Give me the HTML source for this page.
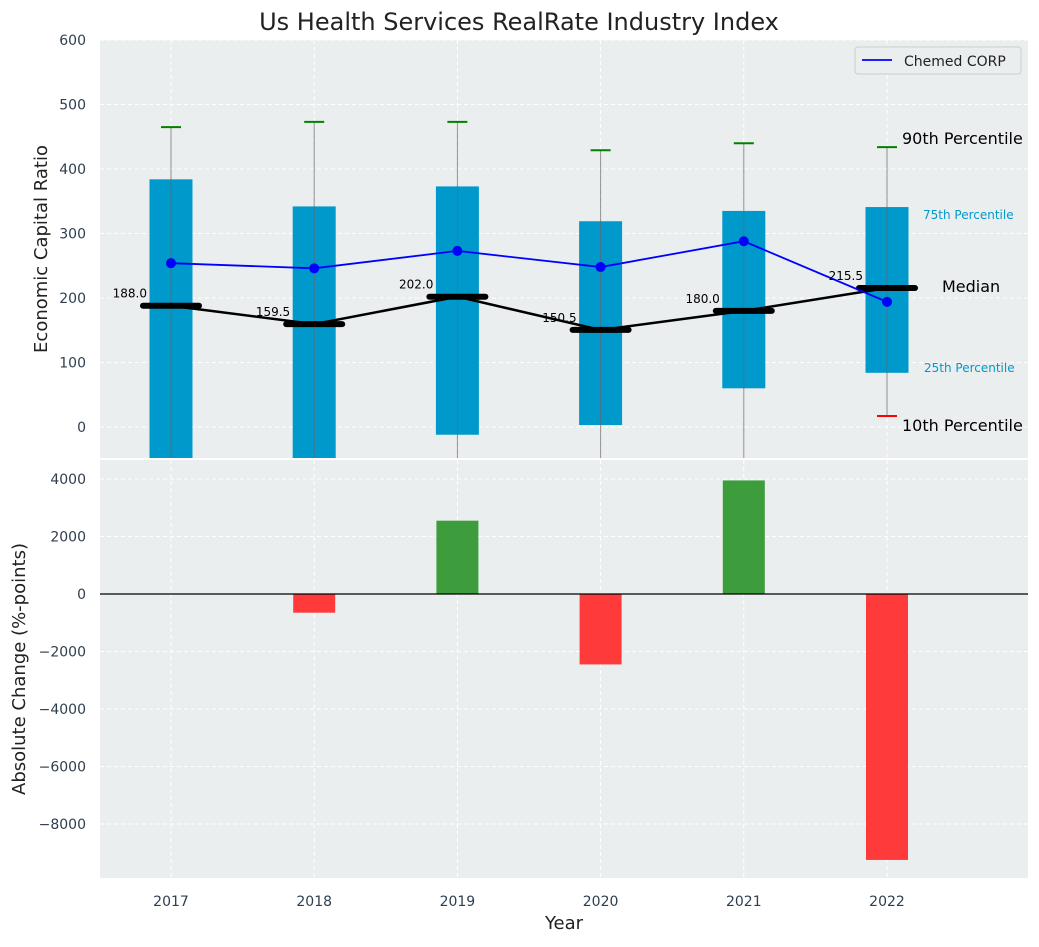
<!DOCTYPE html>
<html><head><meta charset="utf-8"><style>
body{margin:0;background:#fff;font-family:"Liberation Sans","DejaVu Sans",sans-serif}
svg text{font-family:"DejaVu Sans","Liberation Sans",sans-serif}
</style></head><body>
<svg id="c" width="1039" height="942" xmlns="http://www.w3.org/2000/svg"></svg>
<script>
const years=[2017,2018,2019,2020,2021,2022];
const p10=[-120,-110,-100,-90,-100,17];
const p25=[-100,-80,-12,3,60,84];
const p50=[188,159.5,202,150.5,180,215.5];
const p75=[384,342,373,319,335,341];
const p90=[465,473,473,429,440,434];
const chemed=[254,246,273,248,288,194];
const change=[0,-650,2550,-2450,3950,-9250];
const topTicks=[0,100,200,300,400,500,600];
const botTicks=[-8000,-6000,-4000,-2000,0,2000,4000];

const NS="http://www.w3.org/2000/svg";
const svg=document.getElementById('c');
function mk(t,a,p){const e=document.createElementNS(NS,t);for(const k in a)e.setAttribute(k,a[k]);(p||svg).appendChild(e);return e;}
const L=100,R=1028;
const x=i=>171+(years[i]-2017)*143.2;
const T0=40,T1=458,yT=v=>427-v*0.645;
const B0=460,B1=878,yB=v=>594-v*0.02875;
const bw=43;

let t=mk('text',{x:519,y:30,'text-anchor':'middle','font-size':24,fill:'#222'});t.textContent='Us Health Services RealRate Industry Index';


let bg=mk('rect',{x:L,y:T0,width:R-L,height:T1-T0,fill:'#ebeeee'});

let bg2=mk('rect',{x:L,y:B0,width:R-L,height:B1-B0,fill:'#ebeeee'});

years.forEach((y,i)=>{mk('line',{x1:x(i),x2:x(i),y1:T0,y2:T1,stroke:'#fff','stroke-dasharray':'4,3'});
 mk('line',{x1:x(i),x2:x(i),y1:B0,y2:B1,stroke:'#fff','stroke-dasharray':'4,3'});});
const clipT=mk('clipPath',{id:'ct'});mk('rect',{x:L,y:T0,width:R-L,height:T1-T0},clipT);
const gT=mk('g',{'clip-path':'url(#ct)'});
topTicks.forEach(v=>{mk('line',{x1:L,x2:R,y1:yT(v),y2:yT(v),stroke:'#fff','stroke-dasharray':'4,3'},gT);
 let tt=mk('text',{x:L-14,y:yT(v)+5,'text-anchor':'end','font-size':14,fill:'#2f3e4e'});tt.textContent=v;
 });
years.forEach((y,i)=>{
 let b=mk('rect',{x:x(i)-bw/2,y:yT(p75[i]),width:bw,height:yT(p25[i])-yT(p75[i]),fill:'#0099cc'},gT);
 
 mk('line',{x1:x(i),x2:x(i),y1:yT(p90[i]),y2:yT(p10[i]),stroke:'#666','stroke-width':1,opacity:0.7},gT);
 mk('line',{x1:x(i)-10,x2:x(i)+10,y1:yT(p90[i]),y2:yT(p90[i]),stroke:'green','stroke-width':2},gT);
 mk('line',{x1:x(i)-10,x2:x(i)+10,y1:yT(p10[i]),y2:yT(p10[i]),stroke:'red','stroke-width':2},gT);
});
mk('polyline',{points:years.map((y,i)=>x(i)+','+yT(p50[i])).join(' '),fill:'none',stroke:'#000','stroke-width':2.5},gT);
years.forEach((y,i)=>{
 let m=mk('line',{x1:x(i)-28,x2:x(i)+28,y1:yT(p50[i]),y2:yT(p50[i]),stroke:'#000','stroke-width':6,'stroke-linecap':'round'},gT);
 
 let lt=mk('text',{x:x(i)-24,y:yT(p50[i])-8,'text-anchor':'end','font-size':12,fill:'#000'});lt.textContent=p50[i].toFixed(1);
 
});
mk('polyline',{points:years.map((y,i)=>x(i)+','+yT(chemed[i])).join(' '),fill:'none',stroke:'#0000ff','stroke-width':1.8},gT);
years.forEach((y,i)=>{let c=mk('circle',{cx:x(i),cy:yT(chemed[i]),r:5,fill:'#0000ff',stroke:'none'},gT);
 });
const li=years.length-1;
[[p90[li],-8,'90th Percentile',16,'#000',x(li)+15],[p75[li],7,'75th Percentile',12,'#0099cc',x(li)+36],[p50[li],-1,'Median',16,'#000',x(li)+55],[p25[li],-6,'25th Percentile',12,'#0099cc',x(li)+37],[p10[li],10,'10th Percentile',16,'#000',x(li)+15]].forEach(a=>{
 let e=mk('text',{x:a[5],y:yT(a[0])+a[1]+5,'font-size':a[3],fill:a[4]});e.textContent=a[2];
 });
let lg=mk('g',{});
mk('rect',{x:855,y:47,width:166,height:27,rx:3,fill:'#ebeeee',stroke:'#ccc'},lg);
mk('line',{x1:862,x2:892,y1:60,y2:60,stroke:'#0000ff','stroke-width':1.8},lg);
let lt=mk('text',{x:904,y:66,'font-size':14,fill:'#222'},lg);lt.textContent='Chemed CORP';
let yl=mk('text',{x:47,y:249,'text-anchor':'middle','font-size':18,fill:'#222',transform:'rotate(-90 47 249)'});yl.textContent='Economic Capital Ratio';


botTicks.forEach(v=>{mk('line',{x1:L,x2:R,y1:yB(v),y2:yB(v),stroke:'#fff','stroke-dasharray':'4,3'});
 let tt=mk('text',{x:L-14,y:yB(v)+5,'text-anchor':'end','font-size':14,fill:'#2f3e4e'});tt.textContent=v<0?'\u2212'+(-v):v;
 });
years.forEach((y,i)=>{const v=change[i];
 let b=mk('rect',{x:x(i)-21,y:Math.min(yB(v),yB(0)),width:42,height:Math.abs(yB(v)-yB(0)),fill:v>=0?'#2e962e':'#ff2a2a',opacity:0.92});
 
 let tl=mk('text',{x:x(i),y:906,'text-anchor':'middle','font-size':14,fill:'#2f3e4e'});tl.textContent=y;
 });
mk('line',{x1:L,x2:R,y1:yB(0),y2:yB(0),stroke:'#000','stroke-width':1.2});
let xl=mk('text',{x:564,y:929,'text-anchor':'middle','font-size':18,fill:'#222'});xl.textContent='Year';

let yl2=mk('text',{x:25,y:669,'text-anchor':'middle','font-size':18,fill:'#222',transform:'rotate(-90 25 669)'});yl2.textContent='Absolute Change (%-points)';

</script>
</body></html>
